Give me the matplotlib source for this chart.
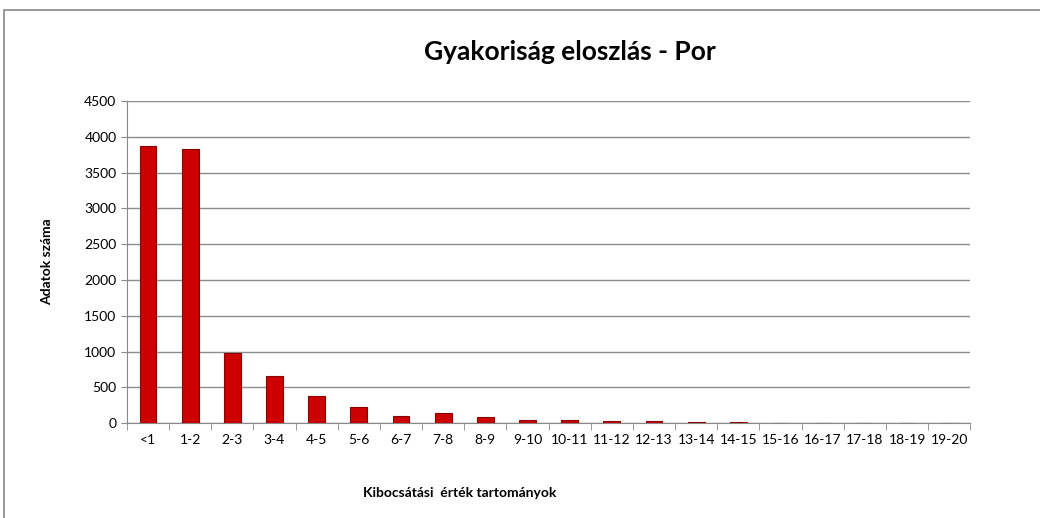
import numpy as np
import matplotlib.pyplot as plt
from matplotlib.patches import Rectangle

# Frequency distribution - dust
categories = ["<1", "1-2", "2-3", "3-4", "4-5", "5-6", "6-7", "7-8", "8-9", "9-10",
              "10-11", "11-12", "12-13", "13-14", "14-15", "15-16", "16-17", "17-18",
              "18-19", "19-20"]
counts = [3865, 3830, 975, 655, 385, 225, 100, 140, 80, 38,
          38, 24, 24, 14, 12, 0, 0, 0, 0, 0]

plt.rcParams['font.family'] = ['Lato', 'DejaVu Sans']

fig = plt.figure(figsize=(10.4, 5.18), dpi=100)
ax = fig.add_axes([0.122, 0.183, 0.811, 0.622])

x = np.arange(len(categories))
ax.bar(x, counts, width=0.4, color="#CC0000", edgecolor="#8A0000", linewidth=0.8, zorder=3)

ax.set_xlim(-0.5, len(categories) - 0.5)
ax.set_ylim(0, 4500)
ax.set_yticks(np.arange(0, 4501, 500))
ax.set_xticks(x)
ax.set_xticklabels(categories)
ax.set_xticks(np.arange(-0.5, len(categories), 1), minor=True)
ax.tick_params(axis="x", which="major", length=0, labelsize=10, pad=8)
ax.tick_params(axis="x", which="minor", length=5, color="#888888")
ax.tick_params(axis="y", length=4, color="#888888", labelsize=10)

ax.grid(axis="y", color="#8C8C8C", linewidth=1, zorder=0)
for s in ["top", "right"]:
    ax.spines[s].set_visible(False)
ax.spines["left"].set_color("#888888")
ax.spines["bottom"].set_color("#888888")

fig.text(0.548, 0.9, "Gyakoriság eloszlás - Por", ha="center", va="center",
         fontsize=19, fontweight="bold")
fig.text(0.045, 0.494, "Adatok száma", ha="center", va="center", rotation=90,
         fontsize=10, fontweight="bold")
fig.text(0.442, 0.048, "Kibocsátási  érték tartományok", ha="center", va="center",
         fontsize=10, fontweight="bold")

fig.patches.append(Rectangle((0.004, -0.1), 1.2, 1.081, transform=fig.transFigure,
                             fill=False, edgecolor="#888888", linewidth=1.2))

fig.savefig("out.png", dpi=100)
